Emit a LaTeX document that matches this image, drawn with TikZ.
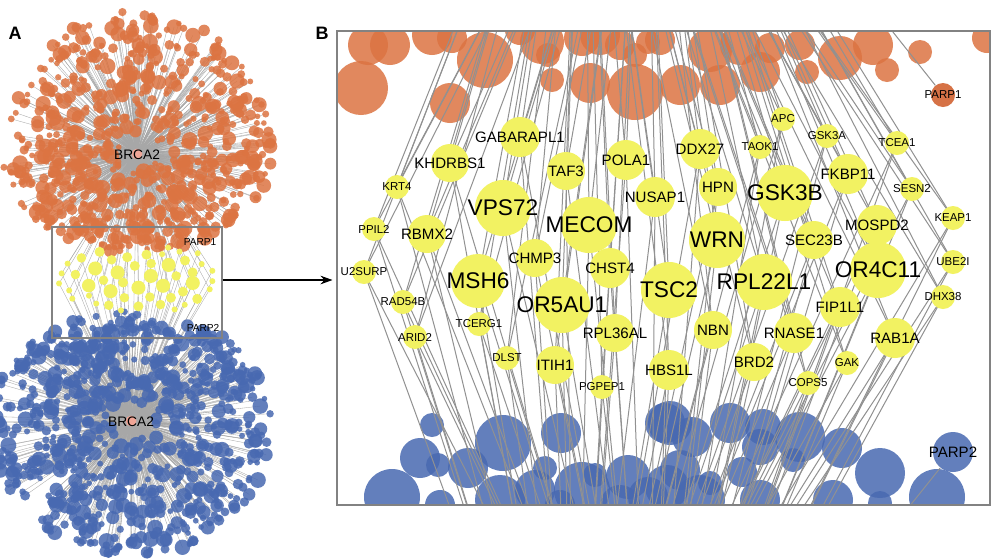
\documentclass[tikz,border=0pt]{standalone}
\usepackage{fontspec}
\setmainfont{Liberation Sans}
\usetikzlibrary{arrows.meta}
\definecolor{orC}{RGB}{220,116,66}
\definecolor{blC}{RGB}{72,105,177}
\definecolor{yeC}{RGB}{242,242,98}
\definecolor{lnC}{RGB}{145,145,145}
\definecolor{pkC}{RGB}{240,165,150}
\definecolor{parpO}{RGB}{214,114,70}
\newcommand\szL{\fontsize{17}{17}\selectfont}
\newcommand\szM{\fontsize{11.3}{12}\selectfont}
\newcommand\szS{\fontsize{8.6}{9}\selectfont}
\def\ylist{gab/520/137/20/GABARAPL1/M, khd/450/163/19/KHDRBS1/M, taf/566/171/19/TAF3/M, pola/626/160/20/POLA1/M, krt/397/187/12/KRT4/S, vps/503/208/28/VPS72/L, mecom/589/225/28/MECOM/L, nusap/655/197/20/NUSAP1/M, ppil/374/229/12/PPIL2/S, rbmx/427/234/19/RBMX2/M, chmp/535/258/19/CHMP3/M, chst/610/268/20/CHST4/M, u2/364/272/12/U2SURP/S, msh/478/281/27/MSH6/L, or5/562/305/28/OR5AU1/L, tsc/669/290/28/TSC2/L, rpl22/764/282/28/RPL22L1/L, or4/878/270/28/OR4C11/L, rad/403/302/12/RAD54B/S, tcerg/479/324/12/TCERG1/S, arid/415/337/12/ARID2/S, rpl36/615/333/19/RPL36AL/M, dlst/507/358/12/DLST/S, itih/555/365/19/ITIH1/M, pgpep/602/387/12/PGPEP1/S, hbs/669/370/20/HBS1L/M, nbn/713/330/19/NBN/M, fip/840/307/20/FIP1L1/M, rnase/794/333/20/RNASE1/M, rab/895/338/20/RAB1A/M, brd/754/362/19/BRD2/M, gak/847/363/12/GAK/S, cops/808/383/12/COPS5/S, dhx/943/297/12/DHX38/S, ddx/700/149/20/DDX27/M, taok/760/147/12/TAOK1/S, apc/783/119/12/APC/S, gsk3a/827/136/12/GSK3A/S, tcea/897/143/12/TCEA1/S, hpn/718/187/19/HPN/M, gsk3b/785/193/28/GSK3B/L, fkbp/848/174/20/FKBP11/M, sesn/912/189/12/SESN2/S, keap/953/218/12/KEAP1/S, wrn/717/240/28/WRN/L, sec/814/240/19/SEC23B/M, mospd/877/225/20/MOSPD2/M, ube/953/262/12/UBE2I/S}
\begin{document}
\begin{tikzpicture}[x=0.75pt,y=-0.75pt,
  ocirc/.style={fill=orC, fill opacity=0.85},
  bcirc/.style={fill=blC, fill opacity=0.85},
  ynode/.style={circle, fill=yeC, inner sep=0pt, draw=none},
  edgeB/.style={draw=lnC, line width=0.75pt},
  edgeA/.style={draw=lnC!80, line width=0.25pt},
  boxst/.style={draw={rgb,255:red,130;green,130;blue,130}, line width=0.8pt, inner sep=0pt, fill=none}]
\fill[white] (0,0) rectangle (1000,558);
\useasboundingbox (0,0) rectangle (1000,558);

% ---------------- Panel A ----------------
\coordinate (brcaO) at (137,154);
\coordinate (brcaB) at (131,421);
\foreach \n/\x/\y/\r/\t/\s in \ylist {
  \pgfmathsetmacro\ax{52+(\x-337)*0.2603}
  \pgfmathsetmacro\ay{227+(\y-31)*0.2342}
  \coordinate (a-\n) at (\ax,\ay);
}
\foreach \n/\x/\y/\r/\t/\s in \ylist {
  \draw[edgeA] (brcaO) -- (a-\n) -- (brcaB);
}
% orange cloud lines
\pgfmathsetseed{11}
\foreach \i in {1,...,720}{
  \pgfmathsetmacro\ang{360*rnd}
  \pgfmathsetmacro\dd{18+110*(rnd)^0.6}
  \pgfmathsetmacro\rr{2.8+5.2*(rnd)^1.6}
  \pgfmathsetmacro\px{cos(\ang)*\dd*1.05}
  \pgfmathsetmacro\py{sin(\ang)*\dd*(sin(\ang)>0?0.78:1.12)}
  \draw[edgeA] (brcaO) -- ++(\px,\py);
}
% blue cloud lines
\pgfmathsetseed{23}
\foreach \i in {1,...,820}{
  \pgfmathsetmacro\ang{360*rnd}
  \pgfmathsetmacro\dd{18+114*(rnd)^0.6}
  \pgfmathsetmacro\rr{2.8+5.2*(rnd)^1.6}
  \pgfmathsetmacro\px{cos(\ang)*\dd*1.07}
  \pgfmathsetmacro\py{sin(\ang)*\dd*(sin(\ang)>0?1.03:0.84)}
  \draw[edgeA] (brcaB) -- ++(\px,\py);
}
% orange cloud circles
\pgfmathsetseed{11}
\foreach \i in {1,...,720}{
  \pgfmathsetmacro\ang{360*rnd}
  \pgfmathsetmacro\dd{18+110*(rnd)^0.6}
  \pgfmathsetmacro\rr{2.8+5.2*(rnd)^1.6}
  \pgfmathsetmacro\px{cos(\ang)*\dd*1.05}
  \pgfmathsetmacro\py{sin(\ang)*\dd*(sin(\ang)>0?0.78:1.12)}
  \fill[ocirc] ([shift={(\px,\py)}]brcaO) circle (\rr);
}
% blue cloud circles
\pgfmathsetseed{23}
\foreach \i in {1,...,820}{
  \pgfmathsetmacro\ang{360*rnd}
  \pgfmathsetmacro\dd{18+114*(rnd)^0.6}
  \pgfmathsetmacro\rr{2.8+5.2*(rnd)^1.6}
  \pgfmathsetmacro\px{cos(\ang)*\dd*1.07}
  \pgfmathsetmacro\py{sin(\ang)*\dd*(sin(\ang)>0?1.03:0.84)}
  \fill[bcirc] ([shift={(\px,\py)}]brcaB) circle (\rr);
}
\foreach \n/\x/\y/\r/\t/\s in \ylist {
  \node[ynode, minimum size=0.375*\r] (ya-\n) at (a-\n) {};
}
\node[circle, fill=pkC, inner sep=0pt, minimum size=8] (brcaOn) at (brcaO) {};
\node[circle, fill=pkC, inner sep=0pt, minimum size=8] (brcaBn) at (brcaB) {};
\node[font=\fontsize{10.3}{11}\selectfont] (brcaOt) at (137,155) {BRCA2};
\node[font=\fontsize{10.3}{11}\selectfont] (brcaBt) at (131,422) {BRCA2};
\node[font=\fontsize{7.6}{8}\selectfont] (parp1a) at (200,242) {PARP1};
\node[font=\fontsize{7.6}{8}\selectfont] (parp2a) at (203,328) {PARP2};
\node[boxst, minimum width=127.5pt, minimum height=83.25pt] (boxA) at (137,282.5) {};
\node[font=\bfseries\fontsize{13.5}{14}\selectfont] (labA) at (15,33) {A};

% ---------------- Panel B ----------------
\node[boxst, minimum width=489.75pt, minimum height=355.5pt] (boxB) at (663.5,268) {};
\draw[line width=0.8pt, -{Stealth[length=9pt,width=6.5pt]}, shorten >=3pt] (boxA.east |- 0,280) coordinate (arrS) -- (arrS -| boxB.west);
\node[font=\bfseries\fontsize{13.5}{14}\selectfont] (labB) at (322,33) {B};

\begin{scope}
\clip (337,31) rectangle (990,505);
\foreach \x/\y/\r in {361/88/27, 368/45/20, 390/45/20, 432/35/20, 452/38/15, 485/60/28, 450/103/20, 542/42/22, 548/55/12, 552/80/12, 590/83/20, 582/38/18, 635/92/28, 635/55/12, 648/42/12, 680/85/20, 720/85/20, 710/50/22, 740/45/20, 760/72/20, 770/48/15, 800/45/15, 807/72/12, 840/58/22, 873/45/20, 887/70/12, 920/52/12, 987/38/15, 660/40/15, 600/35/20, 620/45/15, 520/30/15}
  \fill[ocirc] (\x,\y) circle (\r);
\foreach \x/\y/\r in {432/425/12, 420/458/20, 438/465/12, 468/468/20, 503/443/28, 392/497/28, 561/433/20, 545/468/12, 535/490/20, 582/490/28, 595/475/12, 628/477/22, 665/423/20, 648/497/20, 670/423/22, 692/437/20, 730/423/20, 763/427/18, 800/437/25, 842/448/20, 880/473/25, 793/460/12, 760/447/18, 742/472/15, 680/470/20, 710/483/12, 833/500/20, 937/497/28, 880/503/12, 667/487/22, 700/500/25, 620/505/20, 560/505/15, 500/500/25, 440/505/15, 760/500/20}
  \fill[bcirc] (\x,\y) circle (\r);
\node[circle, fill=parpO, inner sep=0pt, minimum size=18] (parp1) at (943,95) {};
\node[circle, fill=blC, fill opacity=0.85, inner sep=0pt, minimum size=30] (parp2) at (953,452) {};
\coordinate (ht1) at (585,-300);
\coordinate (ht2) at (645,-280);
\coordinate (hb1) at (575,850);
\coordinate (hb2) at (650,830);
\foreach \n/\x/\y/\r/\t/\s in \ylist {
  \coordinate (b-\n) at (\x,\y);
}
\foreach \n/\x/\y/\r/\t/\s in \ylist {
  \draw[edgeB] (ht1) -- (b-\n) -- (hb1);
  \draw[edgeB] (ht2) -- (b-\n) -- (hb2);
}
\draw[edgeB] (ht2) -- (parp1);
\draw[edgeB] (hb2) -- (parp2);
\foreach \n/\x/\y/\r/\t/\s in \ylist {
  \node[ynode, minimum size=1.5*\r] (y-\n) at (b-\n) {};
  \node[font=\csname sz\s\endcsname, inner sep=0pt] (t-\n) at (b-\n) {\t};
}
\node[font=\szS, inner sep=0pt] (parp1t) at (parp1) {PARP1};
\node[font=\szM, inner sep=0pt] (parp2t) at (parp2) {PARP2};
\end{scope}
\node[boxst] at (boxB) [minimum width=489.75pt, minimum height=355.5pt] (boxB2) {};
\end{tikzpicture}
\end{document}
